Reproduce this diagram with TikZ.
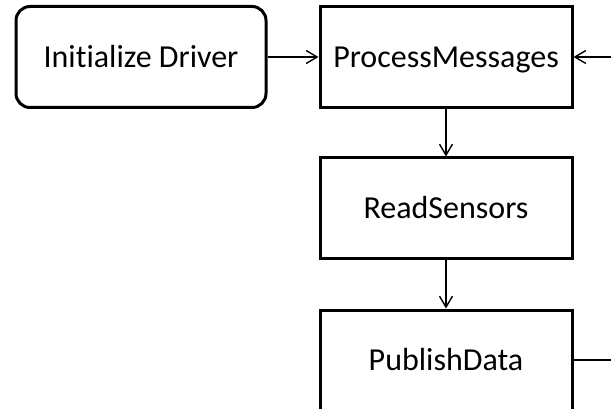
\documentclass[tikz,border=0pt]{standalone}
\usepackage{fontspec}
\setmainfont{Carlito}[Ligatures=NoCommon]
\usetikzlibrary{arrows.meta}
\begin{document}
\begin{tikzpicture}[x=1pt,y=-1pt,
  stepbox/.style={draw=black, line width=3pt, fill=white, minimum width=252pt,
    minimum height=101pt, inner sep=0pt, text height=20.6pt, text depth=0pt,
    font=\fontsize{32}{38}\selectfont},
  startbox/.style={stepbox, rounded corners=14pt, minimum width=250pt},
  flow/.style={line width=1.4pt, -{Straight Barb[length=11pt,width=13pt,line width=1.4pt]}},
  plain/.style={line width=1.4pt}]
  \useasboundingbox (0,0) rectangle (611,409);
  \clip (0,0) rectangle (611,409);
  \fill[white] (0,0) rectangle (611,409);

  % process steps
  \node[startbox] (init) at (141,57) {Initialize Driver};
  \node[stepbox]  (pm)   at (446,57) {ProcessMessages};
  \node[stepbox, minimum height=100pt] (rs) at (446,208) {ReadSensors};
  \node[stepbox, minimum height=100pt] (pd) at (446,360) {PublishData};

  % loop ends running off to the right
  \coordinate (loopin)  at (630,57);
  \coordinate (loopout) at (630,360);

  % connectors
  \draw[flow] (init.east) -- (pm.west);
  \draw[flow] (loopin) -- (pm.east);
  \draw[flow] (pm.south) -- (rs.north);
  \draw[flow] (rs.south) -- (pd.north);
  \draw[plain] (pd.east) -- (loopout);
\end{tikzpicture}
\end{document}
